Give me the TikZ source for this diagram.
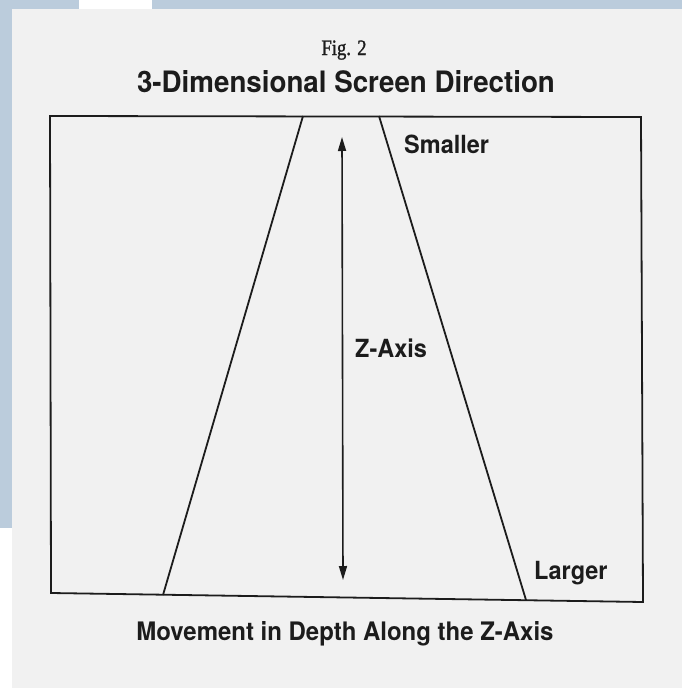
\documentclass[tikz,border=0pt]{standalone}
\usepackage{fontspec}
\usepackage{tikz}
\usetikzlibrary{arrows.meta,positioning}
\newfontfamily\figfont[FakeStretch=0.85,FakeBold=1.2]{Liberation Serif}
\newfontfamily\headfont[FakeStretch=0.94]{TeX Gyre Heros}
\definecolor{web}{HTML}{BBCCDC}
\definecolor{paper}{HTML}{F1F1F1}
\definecolor{ink}{HTML}{1C1C1C}

\begin{document}
\begin{tikzpicture}[x=1pt,y=-1pt,node distance=6mm,edge/.style={draw=ink,line width=1.8pt},arr/.style={{Triangle[length=14pt,width=8pt]}-{Triangle[length=14pt,width=8pt]},line width=1.6pt,color=ink},lbl/.style={inner sep=0pt,anchor=base west,text=ink,font=\headfont\bfseries\fontsize{25}{27}\selectfont}]
% page and background
\fill[web] (0,0) rectangle (682,688);
\fill[white] (79,0) rectangle (152,9);
\fill[white] (0,528) rectangle (12,688);
\fill[paper] (12,9) rectangle (682,688);
\useasboundingbox (0,0) rectangle (682,688);
% headings
\node[inner sep=0pt,anchor=base,text=ink,font=\figfont\fontsize{22}{24}\selectfont] (fig) at (344,55) {Fig. 2};
\node[inner sep=0pt,anchor=base,text=ink,font=\headfont\bfseries\fontsize{29.5}{32}\selectfont] (title) at (346,92) {3-Dimensional Screen Direction};
% screen frame
\coordinate (tl) at (50,116);
\coordinate (tr) at (641,117);
\coordinate (br) at (643,602);
\coordinate (bl) at (51,593);
\draw[edge] (tl) -- (tr) -- (br) -- (bl) -- cycle;
% depth lines
\coordinate (fartl) at (303,116);
\coordinate (fartr) at (379,116);
\coordinate (nearl) at (163,595);
\coordinate (nearr) at (526,600);
\draw[edge] (fartl) -- (nearl);
\draw[edge] (fartr) -- (nearr);
% z axis
\coordinate (ztop) at (342,137);
\coordinate (zbot) at (343,580);
\draw[arr] (zbot) -- (ztop);
\node[lbl] (zaxis) at (355,357) {Z-Axis};
\node[lbl] (small) at (404,153) {Smaller};
\node[lbl] (large) at (534,579) {Larger};
\node[inner sep=0pt,anchor=base,text=ink,font=\headfont\bfseries\fontsize{25.5}{28}\selectfont] (caption) at (345,640) {Movement in Depth Along the Z-Axis};
\end{tikzpicture}
\end{document}
